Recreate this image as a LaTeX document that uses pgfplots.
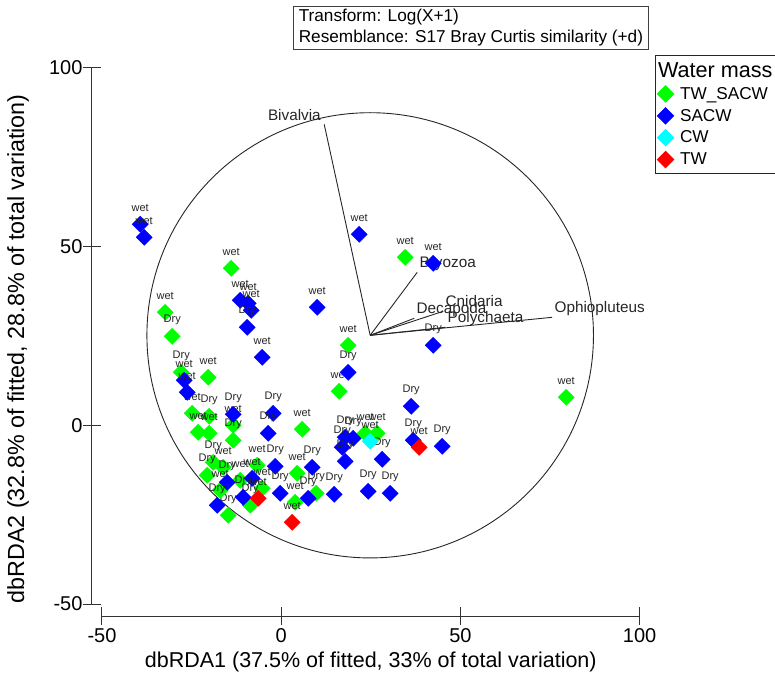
\documentclass[border=0pt]{standalone}
\usepackage{fontspec}
\setmainfont{Liberation Sans}
\usepackage{pgfplots}
\pgfplotsset{compat=1.18}
\usepackage{pgfplotstable}

\definecolor{cTWS}{RGB}{0,255,0}
\definecolor{cSACW}{RGB}{0,0,255}
\definecolor{cCW}{RGB}{0,255,255}
\definecolor{cTW}{RGB}{255,0,0}

% dbRDA sample scores, one table per water mass
\pgfplotstableread{
x y lab
-32.37 31.63 wet
-30.41 24.91 Dry
-13.95 43.94 wet
-27.90 14.83 Dry
-20.37 13.43 wet
-24.83 3.36 wet
-20.09 2.52 Dry
-23.16 -1.96 wet
-20.09 -2.24 wet
-13.39 0.00 wet
-13.39 -4.20 Dry
5.86 -1.12 wet
-18.97 -10.36 Dry
-16.18 -11.75 wet
-6.70 -11.20 wet
4.46 -13.43 wet
-20.65 -13.99 Dry
-11.44 -15.39 wet
-5.30 -17.63 wet
-8.65 -22.39 Dry
-14.79 -25.19 Dry
3.91 -21.55 wet
-17.02 -18.19 wet
16.18 9.52 wet
18.69 22.39 wet
34.60 47.02 wet
79.52 7.84 wet
23.44 -2.24 wet
26.79 -2.24 wet
9.77 -19.03 Dry
}\tabTWSACW

\pgfplotstableread{
x y lab
-39.34 56.26 wet
-38.23 52.62 wet
-11.44 34.98 wet
-9.21 34.15 wet
-8.37 32.19 wet
-9.49 27.43 Dry
-5.30 19.03 wet
-27.06 12.59 wet
-26.23 9.24 wet
-13.39 3.08 Dry
-2.23 3.36 Dry
-3.63 -2.24 Dry
-1.67 -11.48 Dry
8.65 -11.75 Dry
-15.07 -15.95 Dry
-8.09 -14.83 wet
-0.28 -19.03 Dry
-10.60 -20.15 Dry
-17.86 -22.39 Dry
7.53 -20.43 Dry
18.69 14.83 Dry
42.41 22.39 Dry
21.76 53.46 wet
42.41 45.34 wet
10.04 33.03 wet
36.27 5.32 Dry
36.83 -4.20 Dry
44.92 -5.88 Dry
17.86 -3.36 Dry
20.09 -3.64 Dry
17.02 -6.16 Dry
17.86 -10.08 Dry
28.18 -9.52 Dry
14.79 -19.31 Dry
24.27 -18.47 Dry
30.41 -19.03 Dry
}\tabSACW

\pgfplotstableread{
x y lab
24.83 -4.48 wet
}\tabCW

\pgfplotstableread{
x y lab
-6.42 -20.43 wet
3.07 -27.15 wet
38.50 -6.16 wet
}\tabTW

\begin{document}
\begin{tikzpicture}
\useasboundingbox (-102bp,-73bp) rectangle (673bp,604bp);
\begin{axis}[
  scale only axis,
  width=537.6bp, height=536bp,
  xmin=-50, xmax=100, ymin=-50, ymax=100,
  axis lines*=left,
  axis x line shift=12bp,
  axis y line shift=10bp,
  axis line style={black!80, line width=1bp, -},
  xtick={-50,0,50,100}, ytick={-50,0,50,100},
  tick align=center,
  major tick length=18bp,
  tick style={black!80, line width=1bp},
  /pgf/number format/assume math mode=true,
  ticklabel style={font=\fontsize{20bp}{24bp}\selectfont},
  yticklabel style={xshift=3bp},
  xlabel={dbRDA1 (37.5\% of fitted, 33\% of total variation)},
  ylabel={dbRDA2 (32.8\% of fitted, 28.8\% of total variation)},
  x label style={at={(axis description cs:0.5,-0.1082)}, anchor=center,
    font=\fontsize{21.5bp}{26bp}\selectfont},
  y label style={at={(axis description cs:-0.1563,0.476)}, anchor=center,
    font=\fontsize{23.3bp}{27bp}\selectfont},
  clip=false,
  legend style={at={(1.0286,1.0243)}, anchor=north west, draw=black!85,
    line width=1bp, fill=white, font=\fontsize{17.2bp}{20bp}\selectfont,
    cells={anchor=west}, row sep=4.4bp, inner xsep=2bp, inner ysep=5bp},
  legend image code/.code={\draw[#1, only marks] plot coordinates {(0bp,0bp)};
    \path (12bp,0bp);},
  every node near coord/.append style={anchor=center, yshift=16bp,
    font=\fontsize{11bp}{12bp}\selectfont, text=black!85},
  mark size=5.7bp,
]
\addlegendimage{empty legend}
\addlegendentry{\hspace*{-22bp}\fontsize{21.6bp}{24bp}\selectfont Water mass}

\addplot[only marks, mark=square*, mark options={rotate=45, fill=cTWS, draw=cTWS},
  nodes near coords, point meta=explicit symbolic]
  table[x=x, y=y, meta=lab] {\tabTWSACW};
\addlegendentry{TW\_SACW}
\addplot[only marks, mark=square*, mark options={rotate=45, fill=cSACW, draw=cSACW},
  nodes near coords, point meta=explicit symbolic]
  table[x=x, y=y, meta=lab] {\tabSACW};
\addlegendentry{SACW}
\addplot[only marks, mark=square*, mark options={rotate=45, fill=cCW, draw=cCW},
  nodes near coords, point meta=explicit symbolic]
  table[x=x, y=y, meta=lab] {\tabCW};
\addlegendentry{CW}
\addplot[only marks, mark=square*, mark options={rotate=45, fill=cTW, draw=cTW},
  nodes near coords, point meta=explicit symbolic]
  table[x=x, y=y, meta=lab] {\tabTW};
\addlegendentry{TW}

% correlation circle and taxon vectors
\draw[black!85, line width=0.9bp] (axis cs:24.83,25.19) ellipse [x radius=62.3, y radius=62.3];
\tikzset{vlab/.style={font=\fontsize{15.3bp}{17bp}\selectfont, text=black!85, inner sep=0pt}}
\addplot[forget plot, black!85, line width=0.9bp] coordinates {(24.83,25.19) (12.00,84.24)}
  node[pos=1, vlab, anchor=base east, xshift=-3bp, yshift=4bp] {Bivalvia};
\addplot[forget plot, black!85, line width=0.9bp] coordinates {(24.83,25.19) (37.95,42.82)}
  node[pos=1, vlab, anchor=base west, xshift=2bp, yshift=5bp] {Bryozoa};
\addplot[forget plot, black!85, line width=0.9bp] coordinates {(24.83,25.19) (37.11,29.95)}
  node[pos=1, vlab, anchor=base west, xshift=2bp, yshift=5bp] {Decapoda};
\addplot[forget plot, black!85, line width=0.9bp] coordinates {(24.83,25.19) (45.20,31.91)}
  node[pos=1, vlab, anchor=base west, xshift=2bp, yshift=5bp] {Cnidaria};
\addplot[forget plot, black!85, line width=0.9bp] coordinates {(24.83,25.19) (45.76,27.43)}
  node[pos=1, vlab, anchor=base west, xshift=2bp, yshift=5bp] {Polychaeta};
\addplot[forget plot, black!85, line width=0.9bp] coordinates {(24.83,25.19) (75.61,30.23)}
  node[pos=1, vlab, anchor=base west, xshift=2bp, yshift=5bp] {Ophiopluteus};
\end{axis}
\node[draw=black!75, line width=0.9bp, anchor=north west, minimum width=355bp,
  minimum height=43bp, inner xsep=4bp, inner ysep=2bp, align=left,
  font=\fontsize{17.2bp}{21bp}\selectfont] at (191bp,598bp)
  {Transform: Log(X+1)\\Resemblance: S17 Bray Curtis similarity (+d)};
\end{tikzpicture}
\end{document}
